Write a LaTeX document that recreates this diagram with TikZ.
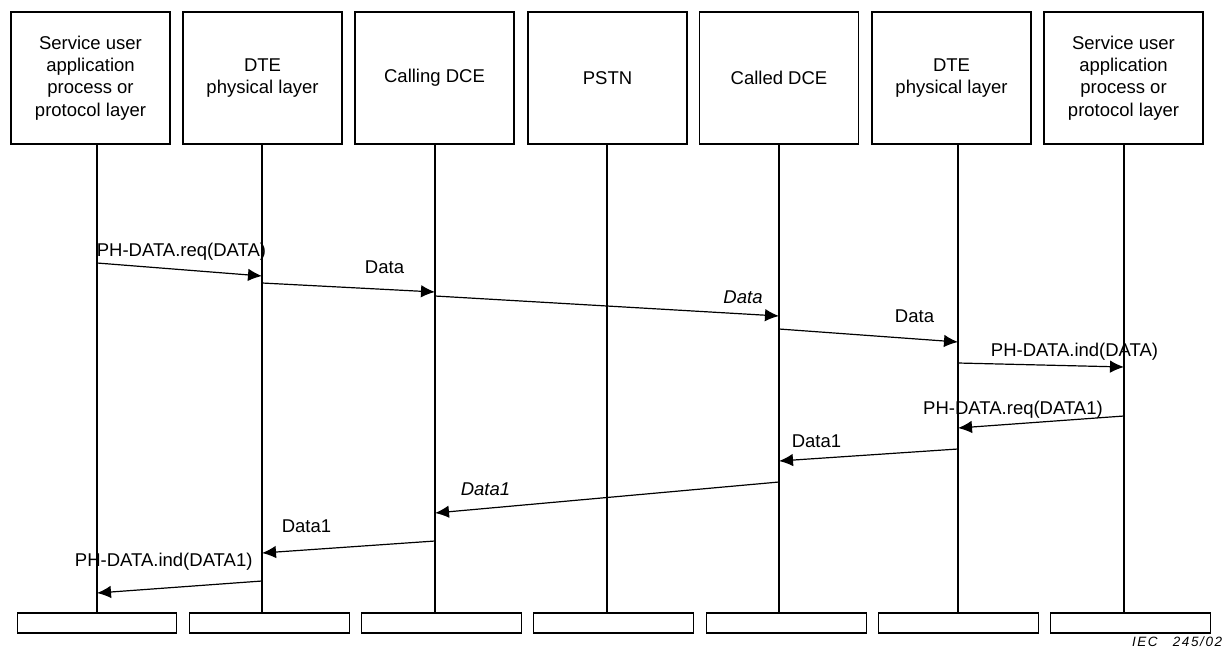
\documentclass[tikz,border=0pt]{standalone}
\usepackage{fontspec}
\setmainfont{Liberation Sans}
\usetikzlibrary{arrows.meta}

\begin{document}
\begin{tikzpicture}[x=1pt, y=-1pt]
\tikzset{ >={Latex[length=14pt,width=12.5pt]}, inner sep=0pt, outer sep=0pt,
  box/.style={draw, line width=1.2pt, align=center, minimum width=159pt, minimum height=132pt, font=\fontsize{18.5}{22.2}\selectfont},
  endbox/.style={draw, line width=1.2pt, minimum width=159.5pt, minimum height=20pt},
  life/.style={line width=1.2pt},
  msg/.style={->, line width=1.2pt},
  lbl/.style={anchor=base, font=\fontsize{18.5}{22.2}\selectfont},
}

\useasboundingbox (0,0) rectangle (1227,659);

%\draw [lightgray, dashed](0,0) grid (1227,659);

\node [box] (usrA)  at (90.5,78)   {Service user\\application\\process or\\protocol layer};
\node [box] (dteA)  at (262.5,78)  {DTE\\physical layer};
\node [box] (cgDCE) at (434.5,78)  {Calling DCE};
\node [box] (pstn)  at (607.5,78)  {PSTN};
\node [box] (cdDCE) at (779,78)    {Called DCE};
\node [box] (dteB)  at (951.5,78)  {DTE\\physical layer};
\node [box] (usrB)  at (1123.5,78) {Service user\\application\\process or\\protocol layer};

\node [endbox] (usrAe)  at (97,623)     {};
\node [endbox] (dteAe)  at (269.5,623)  {};
\node [endbox] (cgDCEe) at (441.5,623)  {};
\node [endbox] (pstne)  at (613.5,623)  {};
\node [endbox] (cdDCEe) at (786.5,623)  {};
\node [endbox] (dteBe)  at (958.5,623)  {};
\node [endbox] (usrBe)  at (1130.5,623) {};

\coordinate (xA) at (97,0);
\coordinate (xB) at (262,0);
\coordinate (xC) at (435,0);
\coordinate (xD) at (607,0);
\coordinate (xE) at (779,0);
\coordinate (xF) at (958,0);
\coordinate (xG) at (1124,0);

\draw [life] (xA |- usrA.south)  -- (xA |- usrAe.north);
\draw [life] (xB |- dteA.south)  -- (xB |- dteAe.north);
\draw [life] (xC |- cgDCE.south) -- (xC |- cgDCEe.north);
\draw [life] (xD |- pstn.south)  -- (xD |- pstne.north);
\draw [life] (xE |- cdDCE.south) -- (xE |- cdDCEe.north);
\draw [life] (xF |- dteB.south)  -- (xF |- dteBe.north);
\draw [life] (xG |- usrB.south)  -- (xG |- usrBe.north);

% data
\draw [msg] (xA |- 0,263) -- (xB |- 0,276);
\draw [msg] (xB |- 0,283) -- (xC |- 0,292);
\draw [msg] (xC |- 0,296) -- (xE |- 0,316);
\draw [msg] (xE |- 0,329) -- (xF |- 0,342);
\draw [msg] (xF |- 0,363) -- (xG |- 0,367);

% data1
\draw [msg] (xG |- 0,416) -- (xF |- 0,428);
\draw [msg] (xF |- 0,449) -- (xE |- 0,461);
\draw [msg] (xE |- 0,482) -- (xC |- 0,513);
\draw [msg] (xC |- 0,541) -- (xB |- 0,553);
\draw [msg] (xB |- 0,581) -- (xA |- 0,593);

\node [lbl] (reqA) at (181.5,256)  {PH-DATA.req(DATA)};
\node [lbl] (dtA)  at (384.5,273)  {Data};
\node [lbl] (dtB)  at (743,303)    {\itshape Data};
\node [lbl] (dtC)  at (914.5,322)  {Data};
\node [lbl] (indA) at (1074.5,356) {PH-DATA.ind(DATA)};

\node [lbl] (reqB) at (1013,414)   {PH-DATA.req(DATA1)};
\node [lbl] (dtD)  at (816.5,447)  {Data1};
\node [lbl] (dtE)  at (485.5,495)  {\itshape Data1};
\node [lbl] (dtF)  at (306.5,532)  {Data1};
\node [lbl] (indB) at (163.7,566)  {PH-DATA.ind(DATA1)};

\node [anchor=base west, font=\fontsize{13.5}{15}\selectfont\itshape\addfontfeatures{LetterSpace=12}] (iec) at (1132,646) {IEC\hspace{15pt}245/02};

\end{tikzpicture}
\end{document}
